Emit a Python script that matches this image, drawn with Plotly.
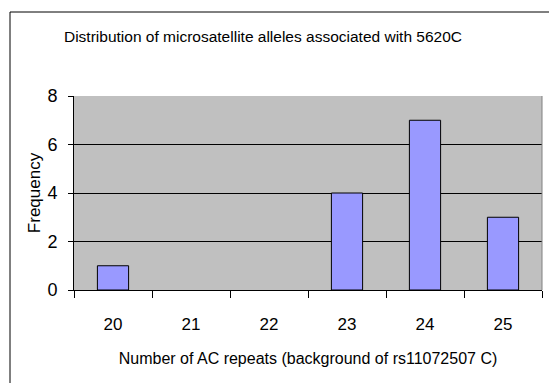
import plotly.graph_objects as go

# Allele counts by number of AC repeats
repeats = ["20", "21", "22", "23", "24", "25"]
frequency = [1, 0, 0, 4, 7, 3]
y_ticks = [0, 2, 4, 6, 8]

FONT = "Liberation Sans, Arial, sans-serif"

# empty categories get no outline so nothing is drawn on the baseline
outline = [1 if v > 0 else 0 for v in frequency]

fig = go.Figure(
    go.Bar(
        x=repeats,
        y=frequency,
        marker=dict(color="#9999FF", line=dict(color="black", width=outline)),
        width=0.4,
    )
)

L, R, T, B = 74, 7, 96, 93
W, H = 549, 383
pw, ph = W - L - R, H - T - B

fig.update_layout(
    width=W,
    height=H,
    margin=dict(l=L, r=R, t=T, b=B),
    paper_bgcolor="white",
    plot_bgcolor="#C0C0C0",
    font=dict(family=FONT, size=15, color="black"),
    showlegend=False,
    title=dict(
        text="Distribution of microsatellite alleles associated with 5620C",
        x=263 / W,
        xanchor="center",
        y=1 - 37 / H,
        yanchor="middle",
        font=dict(family=FONT, size=15.5, color="black"),
    ),
    xaxis=dict(
        type="category",
        tickson="boundaries",
        ticks="outside",
        ticklen=7,
        tickcolor="black",
        showline=True,
        linecolor="black",
        linewidth=1,
        showgrid=False,
        ticklabelstandoff=19,
        tickfont=dict(family=FONT, size=17),
        title=dict(
            text="Number of AC repeats (background of rs11072507 C)",
            font=dict(family=FONT, size=16),
            standoff=19,
        ),
    ),
    yaxis=dict(
        range=[0, 8],
        tickvals=y_ticks,
        ticks="outside",
        ticklen=5,
        tickcolor="black",
        showline=True,
        linecolor="black",
        linewidth=1,
        showgrid=True,
        gridcolor="black",
        gridwidth=1,
        zeroline=False,
        ticklabelstandoff=7,
        tickfont=dict(family=FONT, size=18),
        title=dict(
            text="Frequency" + "\u00a0" * 5,
            font=dict(family=FONT, size=17),
            standoff=2,
        ),
    ),
    shapes=[
        # outer chart border, extending past the right and bottom edges
        dict(
            type="rect",
            xref="paper",
            yref="paper",
            x0=(10 - L) / pw,
            x1=(W + 20 - L) / pw,
            y0=-(B + 20) / ph,
            y1=(H - B - 12) / ph,
            line=dict(color="black", width=1),
            fillcolor="rgba(0,0,0,0)",
            layer="below",
        ),
        # plot area right edge
        dict(
            type="line",
            xref="paper",
            yref="paper",
            x0=1,
            x1=1,
            y0=0,
            y1=1,
            line=dict(color="#808080", width=1),
        ),
    ],
)

fig.write_html("out.html")
